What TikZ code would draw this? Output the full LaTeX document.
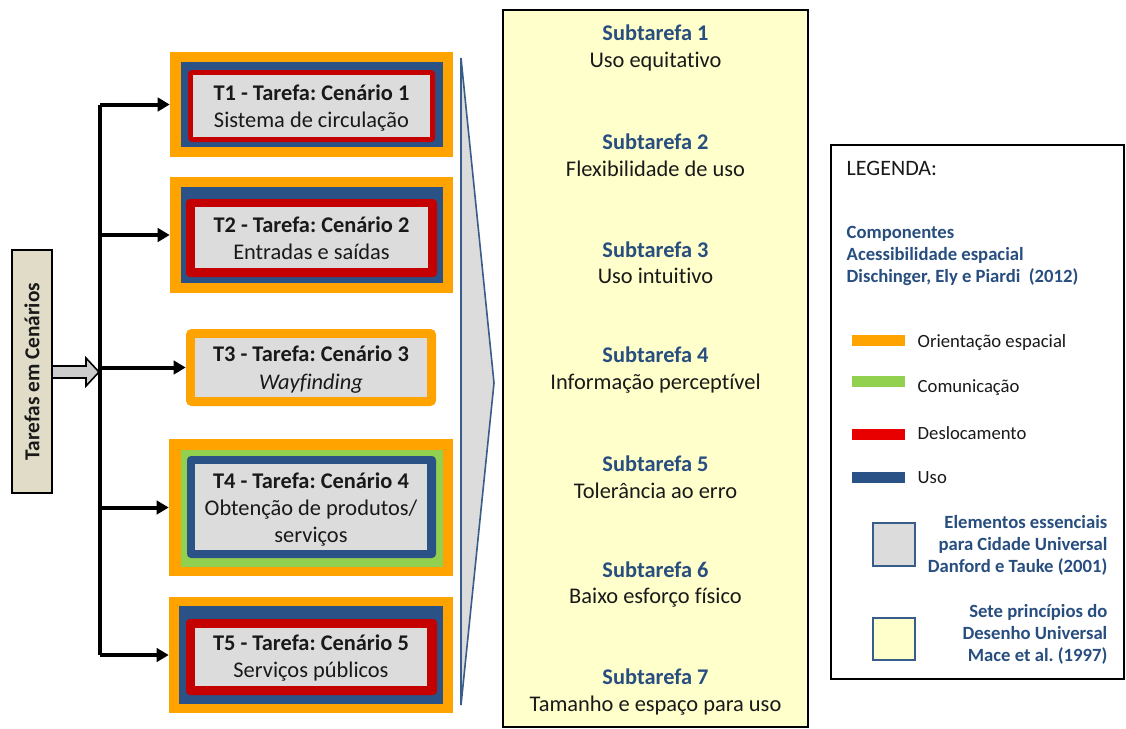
\documentclass[tikz,border=0pt]{standalone}
\usepackage{fontspec}
\setmainfont{Carlito}[Ligatures = NoCommon]
\frenchspacing
\usetikzlibrary{arrows.meta,fit}

\definecolor{laranja}{RGB}{255,163,0}
\definecolor{azul}{RGB}{43,82,135}
\definecolor{vermelho}{RGB}{196,0,0}
\definecolor{vermelholeg}{RGB}{232,0,0}
\definecolor{verde}{RGB}{146,208,80}
\definecolor{cinza}{RGB}{220,220,220}
\definecolor{bege}{RGB}{224,220,200}
\definecolor{amarelo}{RGB}{255,255,204}
\definecolor{contorno}{RGB}{56,93,138}
\definecolor{azultexto}{RGB}{40,78,128}
\definecolor{texto}{RGB}{25,25,25}

\tikzset{
  caixa/.style = {inner sep = 0pt, fit = {#1}},
  tarefa/.style = {align = center, text = texto, yshift = -2.5pt, font = \fontsize{16.8}{20.5}\selectfont},
  subtarefa/.style = {align = center, text = texto, font = \fontsize{16.8}{19.8}\selectfont},
  seta/.style = {line width = 3pt, -{Triangle[length = 9pt, width = 10pt]}},
  legtexto/.style = {anchor = west, text = texto, font = \fontsize{14}{16}\selectfont},
  legazul/.style = {text = azultexto, font = \bfseries\fontsize{14}{16.5}\selectfont}
}

\begin{document}
\begin{tikzpicture}[x = 0.75pt, y = -0.75pt]
	\useasboundingbox (0, 0) rectangle (1126, 728);
	\fill[white] (0, 0) rectangle (1126, 728);
	
	% entrada
	\node[draw = black, line width = 1.5pt, fill = bege, rotate = 90, minimum width = 182pt, minimum height = 30pt, text = texto, font = \bfseries\fontsize{16}{18}\selectfont] (cenarios) at (32, 371.5) {Tarefas em Cenários};
	\coordinate (barra) at (100, 372);
	\draw[black, line width = 1.2pt, fill = gray!40] (52, 366) -- (86, 366) -- (86, 358) -- (99, 372) -- (86, 386) -- (86, 378) -- (52, 378) -- cycle;
	
	% tarefas
	\node[caixa = {(170, 52) (453, 157)}, fill = laranja] (T1) {};
	\fill[azul] (181, 62) rectangle (443, 147);
	\fill[vermelho, rounded corners = 3pt] (188, 70) rectangle (435, 142);
	\fill[cinza] (193, 75) rectangle (430, 137);
	\node[tarefa] (T1txt) at (T1) {\textbf{T1 - Tarefa: Cenário 1}\\Sistema de circulação};
	
	\node[caixa = {(170, 177) (453, 293)}, fill = laranja] (T2) {};
	\fill[azul] (181, 187) rectangle (443, 283);
	\fill[vermelho, rounded corners = 3pt] (186, 199) rectangle (437, 277);
	\fill[cinza] (195, 207) rectangle (428, 268);
	\node[tarefa] (T2txt) at (T2) {\textbf{T2 - Tarefa: Cenário 2}\\Entradas e saídas};
	
	\node[caixa = {(186, 329) (436, 406)}, fill = laranja, rounded corners = 4pt] (T3) {};
	\fill[cinza] (195, 338) rectangle (427, 397);
	\node[tarefa, yshift = 1pt] (T3txt) at (T3) {\textbf{T3 - Tarefa: Cenário 3}\\\textit{Wayfinding}};
	
	\node[caixa = {(169, 439) (453, 576)}, fill = laranja] (T4) {};
	\fill[verde] (181, 450) rectangle (443, 567);
	\fill[azul, rounded corners = 3pt] (187, 456) rectangle (436, 558);
	\fill[cinza] (195, 464) rectangle (427, 550);
	\node[tarefa, yshift = 1pt] (T4txt) at (T4) {\textbf{T4 - Tarefa: Cenário 4}\\Obtenção de produtos/\\serviços};
	
	\node[caixa = {(169, 597) (453, 713)}, fill = laranja] (T5) {};
	\fill[azul] (179, 606) rectangle (443, 704);
	\fill[vermelho, rounded corners = 3pt] (186, 619) rectangle (437, 695);
	\fill[cinza] (195, 628) rectangle (427, 686);
	\node[tarefa] (T5txt) at (T5) {\textbf{T5 - Tarefa: Cenário 5}\\Serviços públicos};
	
	% barra e setas
	\draw[line width = 3pt] (barra |- T1) -- (barra |- T5);
	\foreach \t in {T1, T2, T3, T4, T5}
	\draw[seta] (barra |- \t) -- (\t);
	
	% chevron
	\draw[contorno, line width = 1.2pt, fill = cinza] (461, 58) -- (494, 383) -- (461, 705) -- cycle;
	
	% principios
	\node[caixa = {(503, 10) (808, 727)}, draw = black, line width = 2.2pt, fill = amarelo] (principios) {};
	\foreach \i/\nome in {1/Uso equitativo, 2/Flexibilidade de uso, 3/Uso intuitivo, 4/Informação perceptível, 5/Tolerância ao erro, 6/Baixo esforço físico, 7/Tamanho e espaço para uso}
	\node[subtarefa] (S\i) at (655.5, {48 + 107.33*(\i - 1)}) {\textcolor{azultexto}{\textbf{Subtarefa \i}}\\\nome};
	
	% legenda
	\node[caixa = {(831, 145) (1124, 679)}, draw = black, line width = 1.5pt, fill = white] (legenda) {};
	\node[legtexto, font = \fontsize{16.5}{18}\selectfont] (titulo) at (842, 168) {LEGENDA:};
	\node[legazul, anchor = west, align = left] (componentes) at (842, 256) {Componentes\\Acessibilidade espacial\\Dischinger, Ely e Piardi\ \ (2012)};
	
	\fill[laranja] (852, 335) rectangle (905, 346);
	\node[legtexto] (orientacao) at (913, 343) {Orientação espacial};
	\fill[verde] (852, 376) rectangle (905, 387);
	\node[legtexto] (comunicacao) at (913, 388) {Comunicação};
	\fill[vermelholeg] (852, 429) rectangle (905, 440);
	\node[legtexto] (deslocamento) at (913, 433) {Deslocamento};
	\fill[azul] (852, 472) rectangle (905, 483);
	\node[legtexto] (uso) at (913, 478) {Uso};
	
	\draw[contorno, line width = 1.2pt, fill = cinza] (873, 523) rectangle (915, 566);
	\node[legazul, anchor = east, align = right] (danford) at (1112, 545) {Elementos essenciais\\para Cidade Universal\\Danford e Tauke (2001)};
	\draw[contorno, line width = 1.2pt, fill = amarelo] (873, 618) rectangle (915, 660);
	\node[legazul, anchor = east, align = right] (mace) at (1112, 634) {Sete princípios do\\Desenho Universal\\Mace et al. (1997)};
\end{tikzpicture}
\end{document}
